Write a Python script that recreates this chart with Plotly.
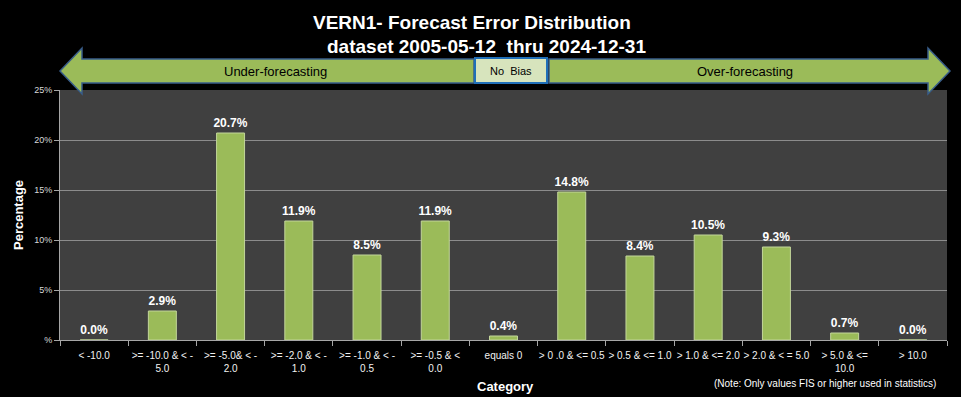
import plotly.graph_objects as go

categories = ["< -10.0", ">= -10.0 & < -<br>5.0", ">= -5.0& < -<br>2.0", ">= -2.0 & < -<br>1.0",
              ">= -1.0 & < -<br>0.5", ">= -0.5 & <<br>0.0", "equals 0", "> 0 .0 & <= 0.5",
              "> 0.5 & <= 1.0", "> 1.0 & <= 2.0", "> 2.0 & < = 5.0", "> 5.0 & <=<br>10.0", "> 10.0"]
values = [0.0, 2.9, 20.7, 11.9, 8.5, 11.9, 0.4, 14.8, 8.4, 10.5, 9.3, 0.7, 0.0]
y_tickvals = [0, 5, 10, 15, 20, 25]
y_ticktext = ["%", "5%", "10%", "15%", "20%", "25%"]

W, H = 961, 397
L, R, T, B = 60, 14, 90, 57
PW, PH = W - L - R, H - T - B
FONT = "Liberation Sans Narrow, Arial Narrow, Liberation Sans, sans-serif"

def px(x):
    return (x - L) / PW

def py(y):
    return (H - B - y) / PH

def path(points):
    return "M " + " L ".join(f"{px(a):.5f},{py(b):.5f}" for a, b in points) + " Z"

fig = go.Figure(go.Bar(
    x=categories, y=values,
    marker=dict(color="#9bbb59", line=dict(color="#c3d69b", width=1)),
    text=[f"{v:.1f}%" for v in values], textposition="outside", cliponaxis=False,
    constraintext="none",
    textfont=dict(color="white", size=12, family=FONT, weight="bold"),
))

left_arrow = [(60, 71), (82, 48), (82, 59), (474, 59), (474, 83), (82, 83), (82, 94)]
right_arrow = [(549, 59), (928, 59), (928, 48), (950, 71), (928, 94), (928, 83), (549, 83)]

shapes = [
    dict(type="path", xref="paper", yref="paper", path=path(left_arrow),
         fillcolor="#9bbb59", line=dict(color="#385d8a", width=1.5), layer="above"),
    dict(type="path", xref="paper", yref="paper", path=path(right_arrow),
         fillcolor="#9bbb59", line=dict(color="#385d8a", width=1.5), layer="above"),
    dict(type="rect", xref="paper", yref="paper", x0=px(475), x1=px(547), y0=py(83), y1=py(58),
         fillcolor="#d7e4bd", line=dict(color="#1f6fb8", width=2), layer="above"),
]

def ann(text, x, y, size, color="white", angle=0):
    return dict(text=text, xref="paper", yref="paper", x=px(x), y=py(y),
                xanchor="center", yanchor="middle", textangle=angle, showarrow=False,
                font=dict(color=color, size=size, family=FONT))

annotations = [
    ann("<b>VERN1- Forecast Error Distribution</b>", 472, 22, 19),
    ann("<b>dataset 2005-05-12  thru 2024-12-31</b>", 486, 46, 19),
    ann("Under-forecasting", 275, 72, 13, "black"),
    ann("Over-forecasting", 745, 72, 13, "black"),
    ann("No  Bias", 511, 71, 11, "black"),
    ann("<b>Percentage</b>", 18, 215, 13, angle=-90),
    ann("<b>Category</b>", 505, 386, 13),
    ann("(Note: Only values FIS or higher used in statistics)", 825, 383, 10),
]

fig.update_layout(
    width=W, height=H, margin=dict(l=L, r=R, t=T, b=B),
    paper_bgcolor="black", plot_bgcolor="#404040",
    bargap=0.59, showlegend=False,
    shapes=shapes, annotations=annotations,
    font=dict(family=FONT, color="white"),
)
fig.update_xaxes(
    type="category", tickson="boundaries", ticks="outside", ticklen=5, tickcolor="#a6a6a6",
    showline=True, linecolor="#a6a6a6", linewidth=1, showgrid=False,
    tickfont=dict(size=10, color="#f2f2f2", family=FONT), tickangle=0,
    ticklabelstandoff=6,
)
fig.update_yaxes(
    range=[0, 25], tickvals=y_tickvals, ticktext=y_ticktext,
    ticks="outside", ticklen=5, tickcolor="#a6a6a6",
    showline=True, linecolor="#a6a6a6", linewidth=1,
    showgrid=True, gridcolor="#8c8c8c", gridwidth=1, zeroline=False,
    tickfont=dict(size=9, color="#d9d9d9", family=FONT),
)

fig.write_html("out.html", config={"displayModeBar": False},
               post_script="document.body.style.margin='0';document.body.style.background='black';")
